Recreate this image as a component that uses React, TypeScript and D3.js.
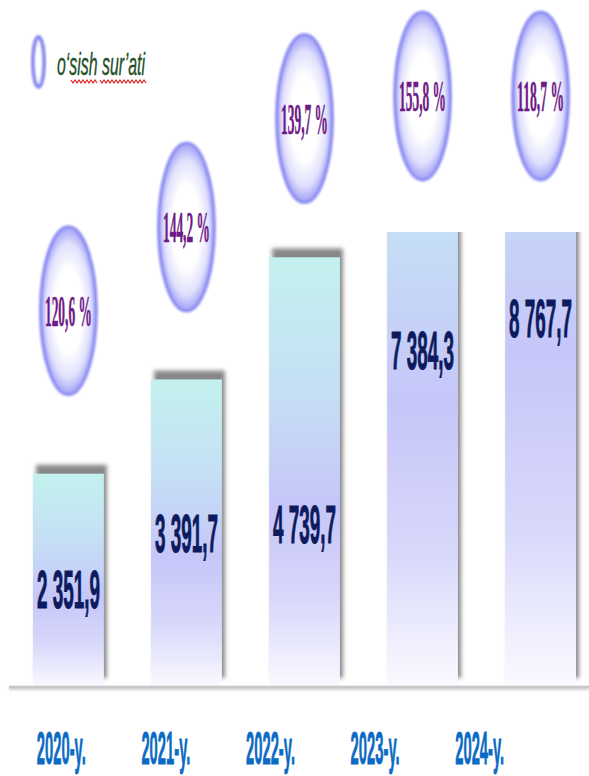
import React from "react";
import * as d3 from "d3";

const years = ["2020-y.", "2021-y.", "2022-y.", "2023-y.", "2024-y."];
const values = [2351.9, 3391.7, 4739.7, 7384.3, 8767.7];
const growth = [120.6, 144.2, 139.7, 155.8, 118.7];
const legendLabel = "o‘sish sur’ati";

// where the value label sits inside the visible part of each bar (0 = top)
const valueLabelFrac = [0.54, 0.5, 0.62, 0.26, 0.19];

const W = 589;
const H = 776;
const baseY = 687;
const topY = 232;

const SANS = "'Liberation Sans', Arial, sans-serif";
const SERIF = "'Liberation Serif', 'Times New Roman', serif";

const fmt = (v: number) => {
  const [i, d] = v.toFixed(1).split(".");
  return i.replace(/\B(?=(\d{3})+(?!\d))/g, " ") + "," + d;
};
const fmtPct = (v: number) => v.toFixed(1).replace(".", ",") + " %";

// measure natural width so texts can be squeezed like the condensed originals
let ctx: CanvasRenderingContext2D | null = null;
const measure = (txt: string, font: string) => {
  if (!ctx) ctx = document.createElement("canvas").getContext("2d");
  if (!ctx) return txt.length * 10;
  ctx.font = font;
  return ctx.measureText(txt).width;
};

interface SqProps {
  x: number;
  y: number;
  text: string;
  width: number;
  size: number;
  family: string;
  weight?: string;
  italic?: boolean;
  fill: string;
  stroke?: number;
  anchor?: "start" | "middle";
}

const Squeezed: React.FC<SqProps> = ({ x, y, text, width, size, family, weight = "normal", italic, fill, stroke = 0, anchor = "middle" }) => {
  const font = `${italic ? "italic " : ""}${weight} ${size}px ${family}`;
  const sx = width / measure(text, font);
  return (
    <text
      transform={`translate(${x},${y}) scale(${sx},1)`}
      textAnchor={anchor}
      fontFamily={family}
      fontWeight={weight}
      fontStyle={italic ? "italic" : "normal"}
      fontSize={size}
      fill={fill}
      stroke={stroke ? fill : "none"}
      strokeWidth={stroke}
    >
      {text}
    </text>
  );
};

const App: React.FC = () => {
  const x = d3.scaleBand<string>().domain(years).range([33, 576]).paddingInner(0.4).paddingOuter(0);
  const xLabel = d3.scaleBand<string>().domain(years).range([9, 532]);
  const y = d3.scaleLinear().domain([0, 5020]).range([baseY, topY]);
  const yBubble = d3.scaleLinear().domain([0, 5020]).range([500, 96]).clamp(true);
  const bw = x.bandwidth();

  const zig = (x0: number, x1: number, yy: number) => {
    const pts: [number, number][] = [];
    for (let px = x0, k = 0; px <= x1; px += 2, k++) pts.push([px, yy + (k % 2 ? 2 : -1)]);
    return d3.line()(pts) ?? "";
  };

  return (
    <svg width={W} height={H} style={{ position: "absolute", left: 0, top: 0, background: "#fff" }}>
      <defs>
        <linearGradient id="barGrad" x1="0" y1="0" x2="0" y2="1">
          <stop offset="0" stopColor="#c3f1ee" />
          <stop offset="0.3" stopColor="#c5e0f5" />
          <stop offset="0.58" stopColor="#c6c6f9" />
          <stop offset="0.8" stopColor="#d8d8fb" />
          <stop offset="1" stopColor="#fafaff" />
        </linearGradient>
        <radialGradient id="bubGrad" cx="0.5" cy="0.5" r="0.5">
          <stop offset="0" stopColor="#ffffff" />
          <stop offset="0.5" stopColor="#ffffff" />
          <stop offset="0.8" stopColor="#e0e0fd" />
          <stop offset="1" stopColor="#a0a0f6" />
        </radialGradient>
        <filter id="barShadow" x="-20%" y="-10%" width="140%" height="120%">
          <feDropShadow dx="3" dy="-9" stdDeviation="2" floodColor="#606060" floodOpacity="0.75" />
        </filter>
        <filter id="soft" x="-20%" y="-20%" width="140%" height="140%">
          <feGaussianBlur stdDeviation="0.9" />
        </filter>
        <filter id="lineShadow" filterUnits="userSpaceOnUse" x="0" y={baseY - 10} width={W} height="20">
          <feDropShadow dx="0" dy="1.5" stdDeviation="1" floodColor="#999" floodOpacity="0.6" />
        </filter>
        <clipPath id="plotClip">
          <rect x={0} y={topY} width={W} height={baseY - topY} />
        </clipPath>
      </defs>

      {/* legend */}
      <ellipse cx={38.5} cy={62} rx={5.5} ry={25} fill="#fff" stroke="#8a8af2" strokeWidth={4} filter="url(#soft)" />
      <Squeezed x={57} y={75} text={legendLabel} width={88} size={32} family={SANS} italic fill="#24502a" stroke={0.4} anchor="start" />
      <path d={zig(71, 97, 81)} fill="none" stroke="#e02020" strokeWidth={1.2} />
      <path d={zig(100, 146, 81)} fill="none" stroke="#e02020" strokeWidth={1.2} />

      {/* bars */}
      <g clipPath="url(#plotClip)">
        {values.map((v, i) => (
          <rect
            key={years[i]}
            x={x(years[i])}
            y={y(v)}
            width={bw}
            height={baseY - y(v)}
            fill="url(#barGrad)"
            filter="url(#barShadow)"
          />
        ))}
      </g>

      {/* baseline */}
      <rect x={9} y={baseY - 1.25} width={W - 9} height={2.5} fill="#c8c8c8" filter="url(#lineShadow)" />

      {/* value labels */}
      {values.map((v, i) => {
        const top = Math.max(y(v), topY);
        const cy = top + (baseY - top) * valueLabelFrac[i];
        return (
          <Squeezed
            key={"v" + i}
            x={(x(years[i]) ?? 0) + bw / 2}
            y={cy + 19}
            text={fmt(v)}
            width={63}
            size={54}
            family={SANS}
            weight="bold"
            fill="#0d1b5e"
            stroke={1}
          />
        );
      })}

      {/* growth bubbles */}
      {growth.map((g, i) => {
        const cx = (x(years[i]) ?? 0) + bw / 2;
        const cy = yBubble(values[i]);
        return (
          <g key={"b" + i}>
            <ellipse cx={cx} cy={cy} rx={28} ry={84} fill="url(#bubGrad)" />
            <ellipse cx={cx} cy={cy} rx={28} ry={84} fill="none" stroke="#8f8ff3" strokeWidth={3} filter="url(#soft)" />
            <Squeezed x={cx} y={cy + 15} text={fmtPct(g)} width={47} size={44} family={SERIF} weight="bold" fill="#6e1a86" stroke={0.6} />
          </g>
        );
      })}

      {/* x labels */}
      {years.map((yr) => (
        <Squeezed
          key={yr}
          x={(xLabel(yr) ?? 0) + xLabel.bandwidth() / 2}
          y={764}
          text={yr}
          width={49}
          size={47}
          family={SANS}
          weight="bold"
          fill="#0b6bc4"
          stroke={0.8}
        />
      ))}
    </svg>
  );
};

export default App;
